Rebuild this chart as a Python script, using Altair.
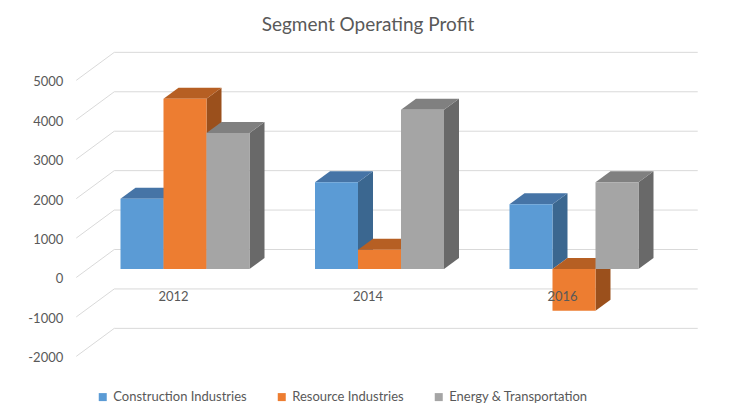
import altair as alt
import pandas as pd

# ---- data ----
years = ["2012", "2014", "2016"]
series_names = ["Construction Industries", "Resource Industries", "Energy & Transportation"]
construction = [1780, 2200, 1640]
resource = [4320, 490, -1060]
energy = [3450, 4040, 2200]
tick_values = [-2000, -1000, 0, 1000, 2000, 3000, 4000, 5000]

front_colors = ["#5B9BD5", "#ED7D31", "#A5A5A5"]
top_colors = ["#4674A6", "#B65F23", "#808080"]
side_colors = ["#3B6790", "#9B501C", "#696969"]

FONT = "Lato"
TXT = "#595959"
GRID = "#D9D9D9"

# ---- pseudo-3D geometry (pixel constants converted to data units) ----
PX_PER_X = 194.5          # pixels per category
PX_PER_V = 0.03943        # pixels per unit of value
W = 3 * PX_PER_X
H = 7000 * PX_PER_V


def ux(p):
    return p / PX_PER_X


def uv(p):
    return p / PX_PER_V


FRONT_DX, FRONT_DY = ux(11.5), uv(8.5)   # label plane -> bar front face
DEPTH_DX, DEPTH_DY = ux(15), uv(11)      # bar depth
WALL_DX, WALL_DY = ux(38), uv(28)        # label plane -> back wall
BAR_W = ux(43)

xs = alt.Scale(domain=[0, 3], nice=False, zero=False)
ys = alt.Scale(domain=[-2000, 5000], nice=False, zero=False)

y_axis = alt.Axis(values=tick_values, domain=False, ticks=False, grid=False, title=None,
                  labelPadding=13.5, labelFont=FONT, labelFontSize=13, labelColor=TXT,
                  labelExpr="datum.value + ''", labelOffset=1.5)


def X(f):
    return alt.X(f, type="quantitative", scale=xs, axis=None)


def Y(f):
    return alt.Y(f, type="quantitative", scale=ys, axis=y_axis)


values_by_series = [construction, resource, energy]

layers = []

# gridlines: diagonal on the floor + horizontal on the back wall
grid_df = pd.DataFrame({"v": tick_values})
grid_df["x0"] = 0.0
grid_df["xw0"] = WALL_DX
grid_df["xw1"] = 3 + WALL_DX
grid_df["vw"] = grid_df["v"] + WALL_DY

layers.append(alt.Chart(grid_df).mark_rule(color=GRID, strokeWidth=1).encode(
    x=X("x0"), x2="xw0", y=Y("v"), y2="vw"))
layers.append(alt.Chart(grid_df).mark_rule(color=GRID, strokeWidth=1).encode(
    x=X("xw0"), x2="xw1", y=Y("vw"), y2="vw"))

color_enc = alt.Color("series:N", scale=alt.Scale(domain=series_names, range=front_colors),
                      legend=alt.Legend(title=None))

for i, yr in enumerate(years):
    c = i + 0.5
    for j, name in enumerate(series_names):
        v = values_by_series[j][i]
        x1 = c - 1.5 * BAR_W + j * BAR_W + FRONT_DX
        x2 = x1 + BAR_W
        yb = FRONT_DY
        yt = v + FRONT_DY
        ytop = max(v, 0) + FRONT_DY
        side = pd.DataFrame({"sx": [x2, x2 + DEPTH_DX],
                             "sy": [yt, yt + DEPTH_DY],
                             "sy2": [yb, yb + DEPTH_DY]})
        top = pd.DataFrame({"ty": [ytop, ytop + DEPTH_DY],
                            "tx": [x1, x1 + DEPTH_DX],
                            "tx2": [x2, x2 + DEPTH_DX]})
        front = pd.DataFrame({"fx": [x1], "fx2": [x2], "fy": [yt], "fy2": [yb],
                              "series": [name], "year": [yr], "value": [v]})
        layers.append(alt.Chart(side).mark_area(color=side_colors[j]).encode(
            x=X("sx"), y=Y("sy"), y2="sy2"))
        layers.append(alt.Chart(top).mark_area(orient="horizontal", color=top_colors[j]).encode(
            y=Y("ty"), x=X("tx"), x2="tx2"))
        layers.append(alt.Chart(front).mark_rect().encode(
            x=X("fx"), x2="fx2", y=Y("fy"), y2="fy2", color=color_enc))

lab_df = pd.DataFrame({"year": years, "c": [i + 0.5 for i in range(len(years))], "zero": [0] * len(years)})
layers.append(alt.Chart(lab_df).mark_text(dy=19.5, font=FONT, fontSize=13, color=TXT,
                                          baseline="middle", align="center").encode(
    x=X("c"), y=Y("zero"), text="year:N"))

chart = alt.layer(*layers).properties(
    width=W, height=H,
    padding={"left": 68.25, "top": 72.35, "right": 55, "bottom": 52},
    autosize=alt.AutoSizeParams(type="none"),
    title=alt.TitleParams("Segment Operating Profit", font=FONT, fontSize=19, color=TXT,
                          fontWeight="normal", anchor="middle", baseline="bottom", offset=-2),
).configure_view(strokeWidth=0).configure_legend(
    orient="none", legendX=20, legendY=310, direction="horizontal", columns=3,
    symbolType="square", symbolSize=64, symbolStrokeWidth=0, labelFont=FONT,
    labelFontSize=13, labelColor=TXT, columnPadding=28, labelOffset=4, padding=0,
)

chart.save("out.html", embed_options={"renderer": "svg", "actions": False})
